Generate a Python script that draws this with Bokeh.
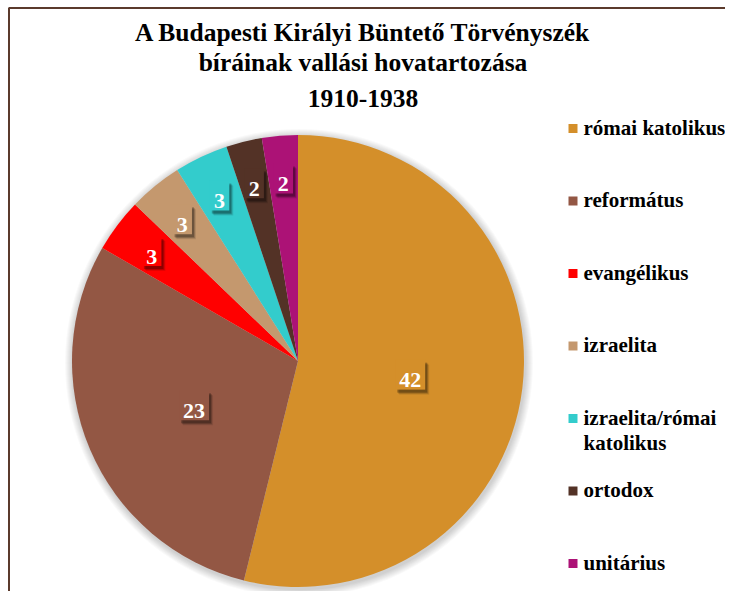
import textwrap
import numpy as np
from bokeh.plotting import figure
from bokeh.models import Range1d, ColumnDataSource, Label
from bokeh.embed import file_html
from bokeh.resources import INLINE

# ---- data ----
TITLE_LINES = ["A Budapesti Királyi Büntető Törvényszék",
               "bíráinak vallási hovatartozása",
               "1910-1938"]
categories = ["római katolikus", "református", "evangélikus", "izraelita",
              "izraelita/római katolikus", "ortodox", "unitárius"]
counts = [42, 23, 3, 3, 3, 2, 2]
colors = ["#D48F2A", "#935744", "#FF0000", "#C4986E", "#33CCCC", "#533226", "#AC1276"]

# ---- layout (image pixel coordinates; y is negated for the data space) ----
W, H = 725, 591
CX, CY, R = 297.5, 360.5, 226.0
FONT = "Liberation Serif"
DESC = 0.216  # descent of the font, in em


def add_text(x, baseline_y, txt, size_px, color="black", align="left"):
    # baseline_y is in image pixels (downwards); anchor at the em-box bottom
    bottom = baseline_y + DESC * size_px
    p.add_layout(Label(x=x, y=-bottom, text=txt, text_font=FONT,
                       text_font_style="bold", text_font_size=f"{size_px}px",
                       text_color=color, text_align=align))


p = figure(width=W, height=H, output_backend="svg", toolbar_location=None,
           x_axis_type=None, y_axis_type=None,
           x_range=Range1d(0, W), y_range=Range1d(-H, 0),
           min_border=0, background_fill_color="white", border_fill_color="white",
           outline_line_color=None)
p.grid.visible = False

# chart-area border (left and top edges visible)
p.line(x=[8.5, 8.5, W + 5], y=[-(H + 5), -7.5, -7.5], line_color="#5B3A2C",
       line_width=2)

# soft shadow around the pie
for k in range(1, 9):
    p.circle(x=CX + 1, y=-(CY + 2), radius=R + k, fill_color="black",
             fill_alpha=0.022, line_color=None)

vals = np.array(counts, dtype=float)
total = vals.sum()
cum_after = np.cumsum(vals)
cum_before = cum_after - vals
start = np.pi / 2 - 2 * np.pi * cum_before / total
end = np.pi / 2 - 2 * np.pi * cum_after / total
src = ColumnDataSource(dict(start=start, end=end, color=colors))
p.wedge(x=CX, y=-CY, radius=R, start_angle="start", end_angle="end",
        direction="clock", fill_color="color", line_color=None, source=src)

# data labels
mid = np.pi / 2 - 2 * np.pi * (cum_before + vals / 2) / total
frac = np.where(vals > 10, 0.5, 0.81)
lx = CX + frac * R * np.cos(mid)
ly = -CY + frac * R * np.sin(mid)
labels = [str(c) for c in counts]
bw = np.array([9 + 10.5 * len(s) for s in labels])
bh = 30
for dx, dy, a in [(3, -4, 0.18), (2, -3, 0.25), (4, -5, 0.1)]:
    p.rect(x=lx + dx, y=ly + dy, width=bw, height=bh, fill_color="black",
           fill_alpha=a, line_color=None)
p.rect(x=lx, y=ly, width=bw, height=bh, fill_color=colors, line_color=None)
for x, y, s in zip(lx, ly, labels):
    add_text(x, -y + 8, s, 22, color="white", align="center")

# title
for i, line in enumerate(TITLE_LINES):
    add_text(362.5, 41 + 30 * i, line, 25.5, align="center")

# legend
ly0, step = 128, 72.5
leg_y = np.array([-(ly0 + step * i) for i in range(len(categories))])
p.rect(x=[572.5] * len(categories), y=leg_y, width=9, height=9,
       fill_color=colors, line_color=None)
for y, cat in zip(leg_y, categories):
    for j, line in enumerate(textwrap.wrap(cat, 16)):
        add_text(583, -y + 6.5 + 25 * j, line, 21)

open("out.html", "w").write(file_html(p, INLINE))
